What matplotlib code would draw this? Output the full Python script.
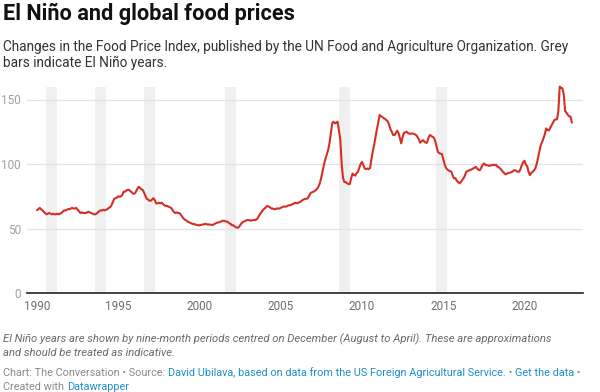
import matplotlib.pyplot as plt
import numpy as np

plt.rcParams['font.family'] = ['Roboto', 'DejaVu Sans']

# FAO Food Price Index, monthly, Jan 1990 - Dec 2022
fpi = [
    64.2, 65.0, 66.0, 65.0, 64.0, 63.0, 62.0, 61.0, 61.5, 62.0, 61.5, 61.0,  # 1990
    61.5, 61.0, 61.0, 61.5, 61.0, 61.5, 62.0, 63.0, 64.0, 64.0, 64.5, 65.0,  # 1991
    65.0, 65.5, 66.0, 65.5, 65.5, 66.0, 64.5, 63.5, 62.0, 62.5, 62.0, 62.0,  # 1992
    62.0, 62.5, 63.0, 62.5, 62.0, 61.5, 61.0, 61.0, 61.5, 62.5, 63.5, 64.0,  # 1993
    64.0, 64.5, 64.0, 64.5, 65.0, 66.0, 66.5, 68.0, 70.5, 73.0, 73.5, 74.0,  # 1994
    75.0, 74.5, 75.0, 76.0, 78.5, 78.5, 79.5, 80.0, 80.0, 79.0, 78.0, 77.0,  # 1995
    77.0, 78.5, 80.5, 82.3, 81.5, 80.5, 80.0, 78.0, 75.5, 73.0, 72.5, 71.5,  # 1996
    71.5, 72.5, 73.5, 72.0, 69.4, 69.5, 70.0, 69.5, 70.0, 69.0, 68.0, 67.5,  # 1997
    67.5, 67.0, 66.5, 66.0, 64.5, 63.0, 62.0, 62.5, 62.0, 62.0, 61.0, 59.5,  # 1998
    58.0, 57.0, 56.4, 55.5, 55.0, 54.5, 54.0, 53.5, 53.5, 53.0, 52.8, 52.5,  # 1999
    52.5, 52.8, 53.0, 53.2, 53.5, 53.5, 53.0, 53.2, 53.0, 52.8, 52.8, 53.5,  # 2000
    54.0, 54.5, 54.7, 55.0, 55.5, 56.0, 56.0, 55.5, 55.5, 55.0, 54.0, 53.5,  # 2001
    52.5, 52.5, 51.5, 51.0, 50.5, 51.0, 52.5, 54.0, 55.0, 55.5, 56.0, 56.5,  # 2002
    56.5, 56.5, 56.0, 56.5, 56.5, 56.5, 57.0, 58.0, 60.0, 61.6, 63.0, 64.5,  # 2003
    65.5, 66.5, 67.5, 67.0, 66.5, 65.5, 65.5, 65.0, 65.0, 65.5, 65.5, 65.5,  # 2004
    66.0, 66.5, 67.0, 67.0, 67.0, 67.5, 68.0, 68.0, 68.5, 69.0, 69.5, 70.0,  # 2005
    69.5, 70.0, 70.5, 71.0, 72.0, 72.5, 73.0, 73.0, 73.5, 75.5, 77.5, 78.0,  # 2006
    78.5, 79.0, 80.0, 81.0, 82.8, 85.5, 90.0, 95.0, 100.0, 104.0, 107.5, 110.8,  # 2007
    116.0, 124.0, 131.5, 132.8, 131.5, 132.0, 132.8, 126.0, 118.5, 100.0, 89.0, 86.0,  # 2008
    86.0, 85.0, 84.5, 84.4, 89.0, 92.6, 91.4, 91.0, 93.0, 94.0, 97.0, 100.0,  # 2009
    101.7, 99.0, 96.5, 96.0, 96.5, 96.0, 97.0, 104.0, 110.0, 115.0, 121.0, 127.0,  # 2010
    132.0, 138.0, 137.0, 136.5, 135.5, 135.0, 134.0, 133.0, 130.5, 127.0, 125.0, 122.5,  # 2011
    122.4, 124.0, 125.8, 124.0, 120.0, 116.0, 121.0, 124.2, 124.5, 125.0, 124.0, 123.5,  # 2012
    123.5, 123.7, 123.5, 123.0, 122.4, 121.0, 119.0, 116.5, 117.5, 118.5, 117.5, 116.5,  # 2013
    116.5, 120.0, 122.4, 122.0, 121.0, 120.6, 118.0, 114.0, 109.5, 108.5, 108.0, 107.7,  # 2014
    104.0, 100.0, 97.0, 95.8, 95.0, 94.5, 94.0, 91.0, 88.8, 89.0, 87.0, 86.0,  # 2015
    85.0, 86.0, 87.5, 89.0, 91.0, 94.0, 94.5, 95.0, 95.5, 95.8, 96.5, 97.0,  # 2016
    97.8, 96.5, 95.5, 95.2, 97.0, 99.0, 100.4, 99.5, 99.0, 99.0, 98.5, 99.0,  # 2017
    99.0, 99.5, 99.0, 99.5, 98.0, 97.5, 96.5, 95.5, 94.0, 93.0, 92.0, 92.5,  # 2018
    93.0, 93.2, 93.5, 94.0, 95.0, 95.2, 94.5, 94.0, 94.0, 96.0, 99.0, 101.5,  # 2019
    102.5, 99.5, 98.3, 94.0, 91.4, 93.0, 94.0, 95.0, 96.5, 100.0, 105.0, 110.0,  # 2020
    114.6, 117.0, 120.0, 123.0, 127.6, 126.3, 126.0, 128.0, 130.0, 132.0, 134.0, 134.6,  # 2021
    134.6, 141.0, 160.0, 159.0, 158.6, 154.0, 141.0, 139.8, 138.0, 137.0, 136.7, 132.0,  # 2022
]
start_year = 1990

# El Nino periods: August of these years to April of the next
nino_years = [1990, 1993, 1996, 2001, 2008, 2014]

x_ticks = [1990, 1995, 2000, 2005, 2010, 2015, 2020]
y_ticks = [0, 50, 100, 150]

W, H = 600, 392
fig = plt.figure(figsize=(W / 100, H / 100), dpi=100)
fig.patch.set_facecolor('white')

# axes box in pixels: left 27, right 583, top 86.6, bottom 293
ax = fig.add_axes([27 / W, 1 - 293 / H, 556 / W, (293 - 86.6) / H])

months = start_year + np.arange(len(fpi)) / 12
for yr in nino_years:
    ax.axvspan(yr + 7 / 12, yr + 1.25, color='#f0f0f0', lw=0, zorder=0)

ax.plot(months, fpi, color='#d52f25', lw=1.5, solid_joinstyle='round',
        solid_capstyle='round', zorder=3, clip_on=False)

ax.set_xlim(1989.385, 2023.6)
ax.set_ylim(0, 160)

ax.set_yticks(y_ticks)
ax.set_xticks(x_ticks)
ax.set_xticklabels([str(t) for t in x_ticks])
ax.tick_params(axis='y', length=0, pad=4.5, labelsize=8.5, labelcolor='#a0a0a0')
ax.tick_params(axis='x', length=0, pad=5, labelsize=8.5, labelcolor='#6e6e6e')
ax.grid(axis='y', color='#e3e3e3', lw=0.9, zorder=1)
ax.grid(axis='x', visible=False)
for s in ['top', 'right', 'left']:
    ax.spines[s].set_visible(False)
ax.spines['bottom'].set_color('#222222')
ax.spines['bottom'].set_linewidth(1.2)
ax.spines['bottom'].set_zorder(4)
ax.set_facecolor('none')


def px(x, y):
    return x / W, 1 - y / H


fig.text(*px(3, 14), 'El Niño and global food prices', fontsize=15.7,
         fontweight='bold', color='#111111', va='center', ha='left')
fig.text(*px(3, 47), 'Changes in the Food Price Index, published by the UN Food and '
         'Agriculture Organization. Grey', fontsize=9.85, color='#333333',
         va='center', ha='left')
fig.text(*px(3, 63), 'bars indicate El Niño years.', fontsize=9.85,
         color='#333333', va='center', ha='left')

fig.text(*px(3, 339), 'El Niño years are shown by nine-month periods centred on '
         'December (August to April). These are approximations',
         fontsize=8.1, style='italic', color='#6a6a6a', va='center', ha='left')
fig.text(*px(3, 353), 'and should be treated as indicative.', fontsize=8.1,
         style='italic', color='#6a6a6a', va='center', ha='left')

renderer = fig.canvas.get_renderer()


def pieces(x, y, parts, size=7.8):
    # draw a line of text made of coloured runs
    for txt, col in parts:
        t = fig.text(*px(x, y), txt, fontsize=size, color=col,
                     va='center', ha='left')
        bb = t.get_window_extent(renderer)
        x += bb.width


grey = '#8a8a8a'
blue = '#1d8fc6'
pieces(3, 373, [('Chart: The Conversation • Source: ', grey),
                ('David Ubilava, based on data from the US Foreign Agricultural Service.', blue),
                (' • ', grey), ('Get the data', blue), (' •', grey)])
pieces(3, 387, [('Created with ', grey), ('Datawrapper', blue)])

fig.savefig('out.png', dpi=100, facecolor='white')
